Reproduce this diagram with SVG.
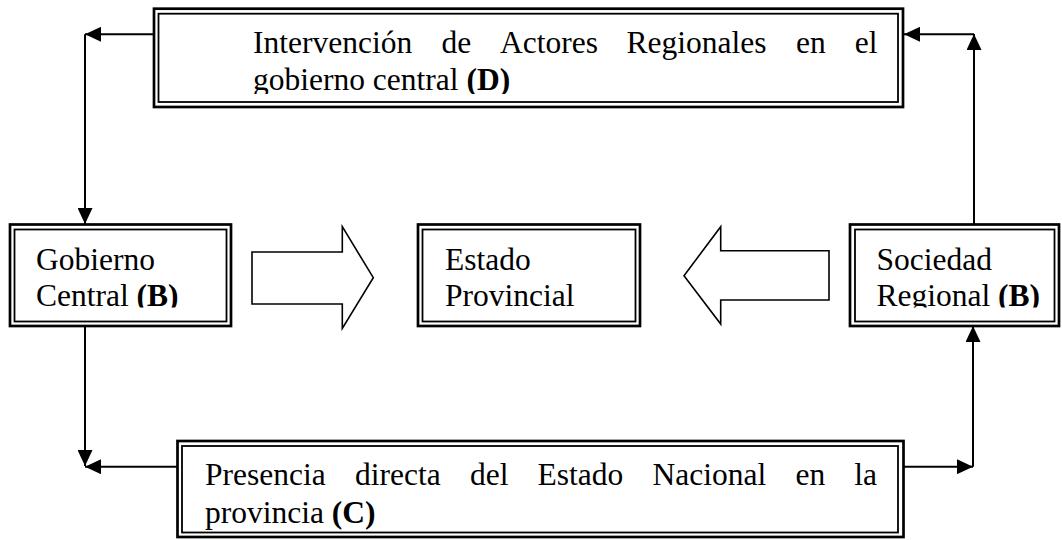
<svg xmlns="http://www.w3.org/2000/svg" width="1062" height="540" viewBox="0 0 1062 540">
<style>
.outer{fill:none;stroke:#000;stroke-width:2.7}
.inner{fill:none;stroke:#000;stroke-width:1.8}
.t{font-family:"Liberation Serif","Times New Roman",serif;font-size:31.5px;fill:#000}
.b{font-weight:bold}
.c{fill:none;stroke:#000;stroke-width:2}
.blk{fill:#fff;stroke:#000;stroke-width:1.6;stroke-linejoin:miter}
</style>
<defs>
<marker id="ah" viewBox="0 0 16 15" refX="16" refY="7.5" markerWidth="16" markerHeight="15" markerUnits="userSpaceOnUse" orient="auto">
<path d="M0,0 L16,7.5 L0,15 z" fill="#000"/>
</marker>
<clipPath id="clipD"><rect x="158" y="14" width="740" height="80"/></clipPath>
<clipPath id="clipMid"><rect x="0" y="229" width="1062" height="78.5"/></clipPath>
<clipPath id="clipC"><rect x="182" y="446" width="716" height="85.5"/></clipPath>
</defs>
<rect width="1062" height="540" fill="#fff"/>

<g id="connectors">
<line class="c" x1="153" y1="34.3" x2="85" y2="34.3" marker-end="url(#ah)"/>
<line class="c" x1="85" y1="34.3" x2="85" y2="224" marker-end="url(#ah)"/>
<line class="c" x1="974" y1="224" x2="974" y2="34" marker-end="url(#ah)"/>
<line class="c" x1="974" y1="34.3" x2="904" y2="34.3" marker-end="url(#ah)"/>
<line class="c" x1="85" y1="326" x2="85" y2="466" marker-end="url(#ah)"/>
<line class="c" x1="177" y1="466.7" x2="85" y2="466.7" marker-end="url(#ah)"/>
<line class="c" x1="904" y1="466.7" x2="973" y2="466.7" marker-end="url(#ah)"/>
<line class="c" x1="973" y1="466.7" x2="973" y2="326" marker-end="url(#ah)"/>
</g>

<g id="arrow-right">
<path class="blk" d="M252,252 L342.3,252 L342.3,226.7 L373.3,277.7 L342.3,328.3 L342.3,304 L252,304 Z"/>
</g>
<g id="arrow-left">
<path class="blk" d="M829,250.7 L720.7,250.7 L720.7,226.7 L684,275.7 L720.7,324 L720.7,300 L829,300 Z"/>
</g>

<g id="node-D">
<rect class="outer" x="154" y="8.7" width="749" height="98.3"/>
<rect class="inner" x="158.5" y="13.7" width="739.5" height="88.3"/>
<g clip-path="url(#clipD)">
<text class="t" y="53.3"><tspan x="253">Intervención</tspan><tspan x="441.5">de</tspan><tspan x="500">Actores</tspan><tspan x="626.6">Regionales</tspan><tspan x="796">en</tspan></text>
<text class="t" x="877.5" y="53.3" text-anchor="end">el</text>
<text class="t" x="253" y="89.5">gobierno central <tspan class="b">(D)</tspan></text>
</g>
</g>

<g id="node-gobierno">
<rect class="outer" x="10" y="224.5" width="221" height="101.5"/>
<rect class="inner" x="14.5" y="229.5" width="212" height="92"/>
<g clip-path="url(#clipMid)">
<text class="t" x="36" y="270">Gobierno</text>
<text class="t" x="36" y="306">Central <tspan class="b">(B)</tspan></text>
</g>
</g>

<g id="node-estado">
<rect class="outer" x="418" y="224.5" width="222" height="101.5"/>
<rect class="inner" x="422.5" y="229.5" width="213" height="92"/>
<g clip-path="url(#clipMid)">
<text class="t" x="445" y="270">Estado</text>
<text class="t" x="445" y="306">Provincial</text>
</g>
</g>

<g id="node-sociedad">
<rect class="outer" x="850" y="224.5" width="209" height="101.5"/>
<rect class="inner" x="855" y="229.5" width="199.5" height="92"/>
<g clip-path="url(#clipMid)">
<text class="t" x="876.5" y="270">Sociedad</text>
<text class="t" x="876.5" y="305.5">Regional <tspan class="b">(B)</tspan></text>
</g>
</g>

<g id="node-C">
<rect class="outer" x="177.5" y="441" width="726" height="96"/>
<rect class="inner" x="182" y="446" width="716" height="86.5"/>
<g clip-path="url(#clipC)">
<text class="t" y="485"><tspan x="205">Presencia</tspan><tspan x="355">directa</tspan><tspan x="470">del</tspan><tspan x="537.5">Estado</tspan><tspan x="652.5">Nacional</tspan><tspan x="795.5">en</tspan></text>
<text class="t" x="877" y="485" text-anchor="end">la</text>
<text class="t" x="205" y="522.7">provincia <tspan class="b">(C)</tspan></text>
</g>
</g>
</svg>
